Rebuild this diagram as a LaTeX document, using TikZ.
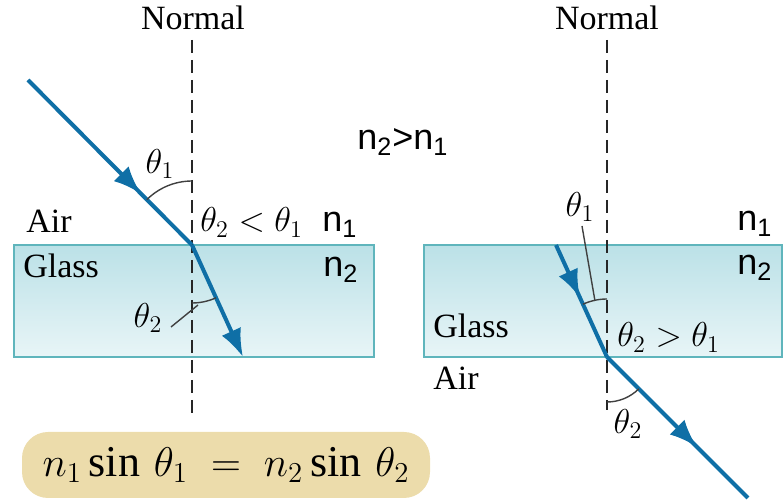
\documentclass[tikz,border=0pt]{standalone}
\usepackage{amsmath}
\usepackage{fontspec}
\setmainfont{Liberation Serif}
\newfontfamily\sansfam{Liberation Sans}
\usetikzlibrary{arrows.meta,decorations.markings}
\definecolor{raycol}{HTML}{0F6FA6}
\definecolor{glasstop}{HTML}{BBE1E7}
\definecolor{glassbot}{HTML}{E8F5F7}
\definecolor{glassedge}{HTML}{5FB5BC}
\definecolor{boxfill}{HTML}{ECDCAB}

\begin{document}
\begin{tikzpicture}[x=0.5pt, y=0.5pt, >={Latex[length=14pt,width=10.5pt]},
    lbl/.style={font=\fontsize{17}{20}\selectfont, inner sep=0pt},
    idx/.style={font=\sansfam\fontsize{18}{21}\selectfont, inner sep=0pt},
    glass/.style={draw=glassedge, line width=1.3pt, top color=glasstop, bottom color=glassbot},
    normal line/.style={dash pattern=on 6.5pt off 3.5pt, line width=1.3pt, black!85},
    ray/.style={draw=raycol, line width=2pt},
    mid arrow/.style={postaction={decorate}, decoration={markings, mark=at position #1 with {\arrow[raycol]{>}}}},
    angle arc/.style={draw=black!75, line width=0.7pt},
    formbox/.style={fill=boxfill, rounded corners=13pt, minimum width=204pt, minimum height=33pt, font=\fontsize{22}{26}\selectfont}]
    \useasboundingbox (0,0) rectangle (784,-502);

    % glass slabs
    \draw[glass] (14,-245) rectangle (374,-357);
    \draw[glass] (424,-245) rectangle (782,-357);

    % points on the rays
    \coordinate (srcL) at (28,-80);
    \coordinate (hitL) at (192,-245);
    \coordinate (outL) at (243,-357);
    \coordinate (srcR) at (556,-245);
    \coordinate (hitR) at (607,-357);
    \coordinate (outR) at (748,-498);
    \coordinate (topL) at (192,-40);
    \coordinate (botL) at (192,-415);
    \coordinate (topR) at (607,-40);
    \coordinate (botR) at (607,-410);

    % normals
    \node[lbl, anchor=base] (normL) at (193,-30) {Normal};
    \node[lbl, anchor=base] (normR) at (607,-30) {Normal};
    \draw[normal line] (topL) -- (botL);
    \draw[normal line] (topR) -- (botR);

    % rays
    \draw[ray, mid arrow=0.69] (srcL) -- (hitL);
    \draw[ray, ->] (hitL) -- (outL);
    \draw[ray, mid arrow=0.47] (srcR) -- (hitR);
    \draw[ray, mid arrow=0.64] (hitR) -- (outR);

    % angles
    \draw[angle arc] (hitL) ++(90:64) arc[start angle=90, end angle=135, radius=64];
    \draw[angle arc] (hitL) ++(270:58) arc[start angle=270, end angle=294.5, radius=58];
    \draw[angle arc] (171,-327) -- (198,-305);
    \draw[angle arc] (hitR) ++(90:58) arc[start angle=90, end angle=114.5, radius=58];
    \draw[angle arc] (582,-226) -- (595,-301);
    \draw[angle arc] (hitR) ++(270:45) arc[start angle=270, end angle=315, radius=45];

    % left labels
    \node[lbl] (th1L) at (160,-164) {$\theta_1$};
    \node[lbl, anchor=base west] (cmpL) at (200,-232) {$\theta_2 < \theta_1$};
    \node[lbl, anchor=base west] (airL) at (26,-233) {Air};
    \node[lbl, anchor=base west] (glassL) at (23,-278) {Glass};
    \node[lbl] (th2L) at (148,-318) {$\theta_2$};
    \node[idx, anchor=base west] (n1L) at (322,-232) {n\textsubscript{1}};
    \node[idx, anchor=base west] (n2L) at (323,-277) {n\textsubscript{2}};
    \node[idx, anchor=base west] (rel) at (357,-150) {n\textsubscript{2}>n\textsubscript{1}};

    % right labels
    \node[lbl] (th1R) at (580,-207) {$\theta_1$};
    \node[lbl, anchor=base west] (cmpR) at (617,-347) {$\theta_2 > \theta_1$};
    \node[lbl, anchor=base west] (glassR) at (433,-338) {Glass};
    \node[lbl, anchor=base west] (airR) at (433,-390) {Air};
    \node[lbl] (th2R) at (628,-424) {$\theta_2$};
    \node[idx, anchor=base west] (n1R) at (737,-231) {n\textsubscript{1}};
    \node[idx, anchor=base west] (n2R) at (737,-275) {n\textsubscript{2}};

    % Snell's law
    \node[formbox] (snell) at (226,-465) {$n_1 \sin\,\theta_1 \;=\; n_2 \sin\,\theta_2$};
\end{tikzpicture}
\end{document}
